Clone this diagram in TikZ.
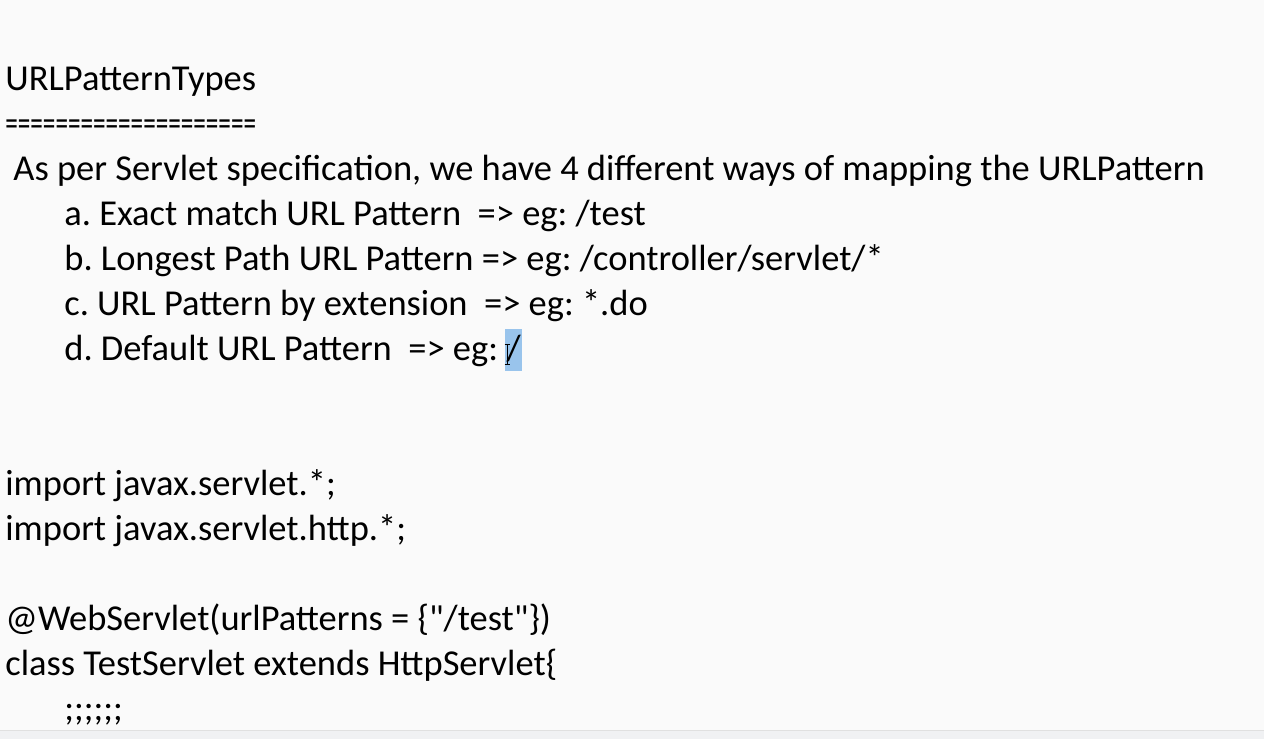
\documentclass[tikz,border=0pt]{standalone}
\usepackage{fontspec}
\usepackage{graphicx}
\setmainfont{Carlito}
\definecolor{pagebg}{HTML}{FAFAFA}
\definecolor{barbg}{HTML}{F0F1F3}
\definecolor{selblue}{HTML}{99C4EC}
\frenchspacing

\begin{document}
\begin{tikzpicture}[x=1pt,y=-1pt,
  every node/.style={anchor=base west, inner sep=0pt, outer sep=0pt,
    font=\fontsize{36.5}{45}\selectfont},
  selected/.style={fill=selblue, inner xsep=1.5pt, text height=32pt, text depth=10pt}
]
\fill[pagebg] (0,0) rectangle (1264,739);
\fill[barbg] (0,731) rectangle (1264,739);
\draw[black!12, line width=0.8pt] (0,731) -- (1264,731);
\useasboundingbox (0,0) rectangle (1264,739);

\node (title) at (5,91) {URLPatternTypes};
\node (rule) at (5,136) {\scalebox{0.69}[1]{====================}};
\node (intro) at (13,181) {As per Servlet specification, we have 4 different ways of mapping the URLPattern};
\node (ita) at (64,226) {a. Exact match URL Pattern\ \ => eg: /test};
\node (itb) at (64,271) {b. Longest Path URL Pattern => eg: /controller/servlet/*};
\node (itc) at (64,316) {c. URL Pattern by extension\ \ => eg: *.do};
\node (itd) at (64,361) {d. Default URL Pattern\ \ => eg:};
\node[selected] (slash) at ([xshift=7pt]itd.base east) {/};

\node (impa) at (5,496) {import javax.servlet.*;};
\node (impb) at (5,541) {import javax.servlet.http.*;};
\node (annot) at (5,631) {@WebServlet(urlPatterns = \{\textquotedbl/test\textquotedbl\})};
\node (cls) at (5,676) {class TestServlet extends HttpServlet\{};
\node (body) at (64,721) {;;;;;;};

% text cursor
\coordinate (cur) at ([xshift=2pt]slash.base west);
\draw[black, line width=0.8pt] ([yshift=16pt]cur) -- ([yshift=-4pt]cur)
  ([xshift=-2.5pt,yshift=16pt]cur) -- ([xshift=2.5pt,yshift=16pt]cur)
  ([xshift=-2.5pt,yshift=-4pt]cur) -- ([xshift=2.5pt,yshift=-4pt]cur);
\end{tikzpicture}
\end{document}
